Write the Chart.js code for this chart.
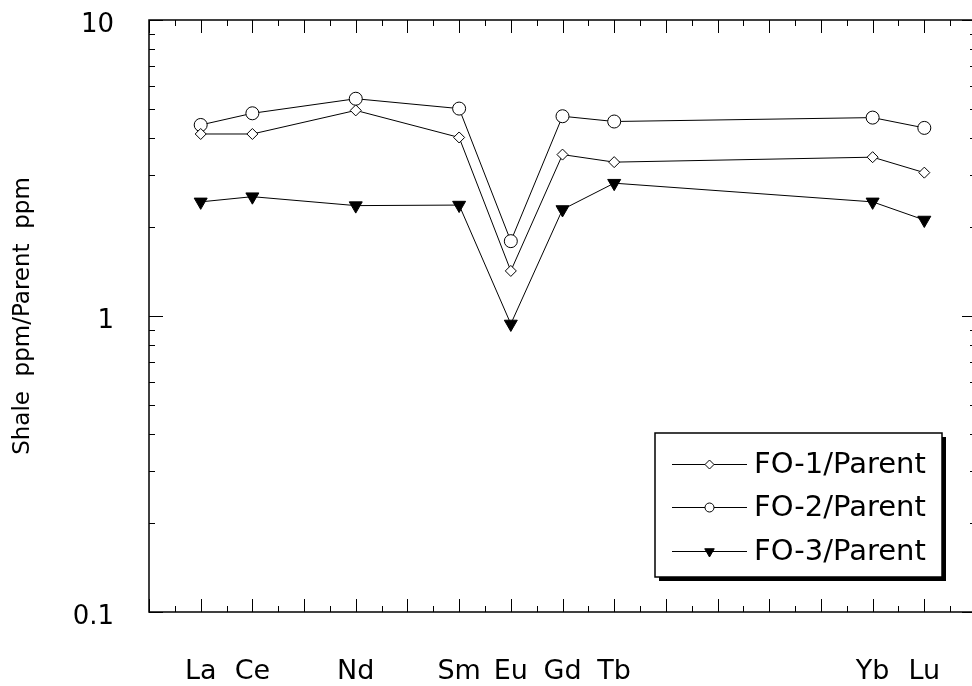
<!DOCTYPE html>
<html>
<head>
<meta charset="utf-8">
<script src="https://cdn.jsdelivr.net/npm/chart.js@4.4.0/dist/chart.umd.min.js"></script>
<style>
html, body { margin: 0; padding: 0; overflow: hidden; background: #fff; }
</style>
</head>
<body>
<canvas id="ree" width="990" height="686"></canvas>
<script>
const elements = ['La', 'Ce', 'Nd', 'Sm', 'Eu', 'Gd', 'Tb', 'Yb', 'Lu'];
const atomicNumbers = [57, 58, 60, 62, 63, 64, 65, 70, 71];
const fo1 = [4.12, 4.12, 4.95, 4.01, 1.42, 3.51, 3.31, 3.44, 3.05];
const fo2 = [4.42, 4.84, 5.42, 5.02, 1.79, 4.73, 4.54, 4.68, 4.32];
const fo3 = [2.43, 2.53, 2.36, 2.37, 0.94, 2.29, 2.81, 2.43, 2.11];
const seriesNames = ['FO-1/Parent', 'FO-2/Parent', 'FO-3/Parent'];
const yTickLabels = [0.1, 1, 10];

const FONT = 'DejaVu Sans';

function points(values) {
    return values.map((v, i) => ({x: atomicNumbers[i], y: v}));
}

// inward tick marks on all four sides, like the old plotting program
const frameTicks = {
    id: 'frameTicks',
    beforeDatasetsDraw(chart) {
        const {ctx, chartArea: a, scales} = chart;
        const xs = scales.x, ys = scales.y;
        ctx.save();
        ctx.strokeStyle = '#000';
        ctx.lineWidth = 1.5;
        ctx.strokeRect(a.left, a.top, a.right - a.left, a.bottom - a.top);
        ctx.lineWidth = 1;
        ctx.beginPath();
        for (let v = xs.min; v <= xs.max; v += 0.5) {
            const px = Math.round(xs.getPixelForValue(v)) + 0.5;
            const len = Number.isInteger(v) ? 13 : 6;
            ctx.moveTo(px, a.bottom); ctx.lineTo(px, a.bottom - len);
            ctx.moveTo(px, a.top); ctx.lineTo(px, a.top + len);
        }
        for (let k = -1; k <= 0; k++) {
            for (let m = 1; m <= 10; m++) {
                const v = m * Math.pow(10, k);
                const py = Math.round(ys.getPixelForValue(v)) + 0.5;
                const len = (m === 1 || m === 10) ? 14 : 6;
                ctx.moveTo(a.left, py); ctx.lineTo(a.left + len, py);
                ctx.moveTo(a.right, py); ctx.lineTo(a.right - len, py);
            }
        }
        ctx.stroke();
        ctx.restore();
    }
};

// boxed legend with drop shadow inside the plot
const boxLegend = {
    id: 'boxLegend',
    afterDraw(chart) {
        const ctx = chart.ctx;
        const a = chart.chartArea;
        const w = 287, h = 144;
        const x = Math.round(a.right - 321), y = Math.round(a.bottom - 179);
        ctx.save();
        ctx.fillStyle = '#000';
        ctx.fillRect(x + 4, y + 4, w, h);
        ctx.fillStyle = '#fff';
        ctx.fillRect(x, y, w, h);
        ctx.strokeStyle = '#000';
        ctx.lineWidth = 1.5;
        ctx.strokeRect(x, y, w, h);
        const rows = [31, 74, 118];
        chart.data.datasets.forEach((ds, i) => {
            const cy = y + rows[i] + 0.5;
            ctx.strokeStyle = '#000';
            ctx.lineWidth = 1;
            ctx.beginPath();
            ctx.moveTo(x + 17, cy); ctx.lineTo(x + 92, cy);
            ctx.stroke();
            ctx.fillStyle = ds.pointBackgroundColor;
            ctx.strokeStyle = '#000';
            Chart.helpers.drawPoint(ctx, {
                pointStyle: ds.pointStyle,
                rotation: ds.pointRotation || 0,
                radius: ds.legendRadius,
                borderWidth: 1
            }, x + 54.5, cy);
            ctx.fillStyle = '#000';
            ctx.font = '29px "' + FONT + '"';
            ctx.textBaseline = 'middle';
            ctx.textAlign = 'left';
            ctx.fillText(ds.label, x + 99, cy + 1);
        });
        ctx.restore();
    }
};

// invisible tick marks only push the labels away from the axes
const hiddenTicks = len => ({
    display: true, drawOnChartArea: false, drawTicks: true,
    tickLength: len, color: 'rgba(0,0,0,0)'
});

const ctx = document.getElementById('ree').getContext('2d');
new Chart(ctx, {
    type: 'line',
    data: {
        datasets: [{
            label: seriesNames[0],
            data: points(fo1),
            pointStyle: 'rectRot',
            pointRadius: 5.5,
            legendRadius: 4.5,
            pointBackgroundColor: '#fff'
        }, {
            label: seriesNames[1],
            data: points(fo2),
            pointStyle: 'circle',
            pointRadius: 6.5,
            legendRadius: 4.5,
            pointBackgroundColor: '#fff'
        }, {
            label: seriesNames[2],
            data: points(fo3),
            pointStyle: 'triangle',
            pointRotation: 180,
            pointRadius: 7.5,
            legendRadius: 5.5,
            pointBackgroundColor: '#000'
        }].map(ds => Object.assign({
            borderColor: '#000',
            borderWidth: 1,
            pointBorderColor: '#000',
            pointBorderWidth: 1,
            tension: 0,
            fill: false
        }, ds))
    },
    options: {
        responsive: false,
        animation: false,
        events: [],
        layout: {padding: {top: 20, right: 14, left: 0, bottom: 0}},
        plugins: {legend: {display: false}, tooltip: {enabled: false}},
        scales: {
            x: {
                type: 'linear', min: 56, max: 72,
                grid: hiddenTicks(44),
                border: {display: false},
                ticks: {
                    stepSize: 1, autoSkip: false, maxRotation: 0, padding: 0,
                    color: '#000', font: {family: FONT, size: 27},
                    callback: v => {
                        const i = atomicNumbers.indexOf(v);
                        return i >= 0 ? elements[i] : '';
                    }
                },
                afterFit: s => { s.height = 74; }
            },
            y: {
                type: 'logarithmic', min: 0.1, max: 10,
                grid: hiddenTicks(35),
                border: {display: false},
                ticks: {
                    autoSkip: false, padding: 0, labelOffset: 5,
                    color: '#000', font: {family: FONT, size: 26},
                    callback: v => {
                        const r = Number(Number(v).toPrecision(2));
                        return yTickLabels.includes(r) ? String(r) : '';
                    }
                },
                title: {
                    display: true, text: 'Shale  ppm/Parent  ppm', color: '#000',
                    font: {family: FONT, size: 23}, padding: {top: 9, bottom: 0}
                },
                afterFit: s => { s.width = 149; }
            }
        }
    },
    plugins: [frameTicks, boxLegend]
});
</script>
</body>
</html>
